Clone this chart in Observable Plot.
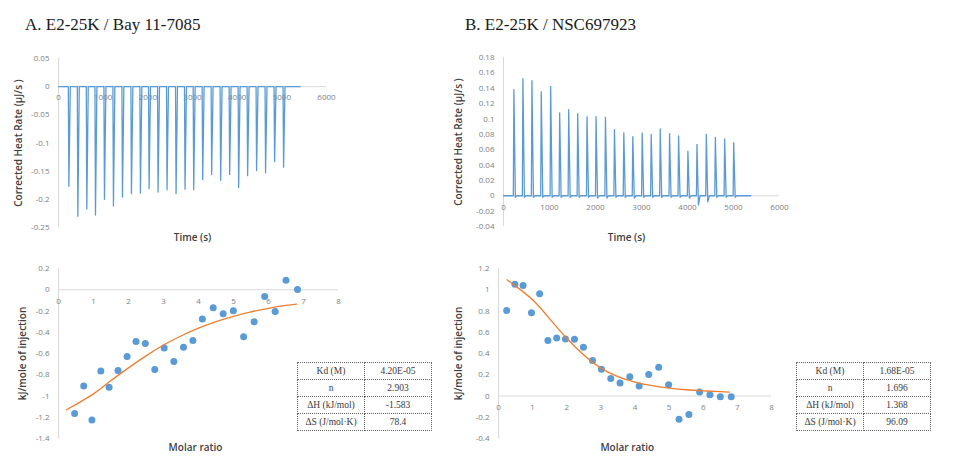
<!DOCTYPE html>
<html><head><meta charset="utf-8">
<script src="https://cdn.jsdelivr.net/npm/d3@7"></script>
<script src="https://cdn.jsdelivr.net/npm/@observablehq/plot@0.6"></script>
<style>
body{margin:0;background:#fff;}
#root{position:relative;width:966px;height:473px;overflow:hidden;background:#fff;}
.panel{position:absolute;}
.title{position:absolute;font-family:"Liberation Serif",serif;font-size:17px;color:#1a1a1a;white-space:nowrap;line-height:17px;}
table.params{position:absolute;border-collapse:collapse;font-family:"Liberation Serif",serif;font-size:9.5px;color:#3a3a3a;border:1px dotted #222;}
table.params td{border:1px dotted #666;width:66px;height:16px;text-align:center;padding:0;line-height:16px;}
</style></head><body><div id="root"></div>
<script>
// ---------- Panel titles ----------
const titleA = "A. E2-25K / Bay 11-7085";
const titleB = "B. E2-25K / NSC697923";

// ---------- Raw thermograms (injection time s, peak heat rate µJ/s) ----------
const injTimeA = [224,425,626,820,1021,1222,1424,1625,1826,2020,2221,2422,2624,2825,3019,3220,3421,3622,3824,4025,4226,4427,4628,4830,5031];
const peakA = [-0.177,-0.230,-0.217,-0.228,-0.200,-0.212,-0.196,-0.190,-0.189,-0.181,-0.187,-0.183,-0.190,-0.182,-0.183,-0.165,-0.156,-0.166,-0.156,-0.179,-0.158,-0.149,-0.153,-0.133,-0.143];
const endTimeA = 5410;

const injTimeB = [218,414,610,813,1017,1213,1409,1605,1808,2004,2208,2404,2607,2803,3007,3203,3399,3602,3798,4001,4198,4401,4597,4800,4996];
const peakB = [0.138,0.1525,0.150,0.1355,0.1425,0.108,0.112,0.107,0.103,0.103,0.102,0.086,0.082,0.077,0.082,0.080,0.087,0.081,0.078,0.058,0.067,0.080,0.076,0.074,0.069];
const undershootB = [-0.002,-0.002,-0.002,-0.002,-0.002,-0.002,-0.002,-0.002,-0.002,-0.003,-0.003,-0.002,-0.002,-0.003,-0.002,-0.002,-0.002,-0.002,-0.002,-0.003,-0.012,-0.008,-0.002,-0.002,-0.002];
const endTimeB = 5375;

// ---------- Integrated heats (molar ratio, kJ/mol of injectant) ----------
const molarA = [0.46,0.72,0.955,1.21,1.445,1.70,1.96,2.215,2.48,2.75,3.02,3.295,3.57,3.84,4.11,4.42,4.705,4.995,5.29,5.59,5.89,6.19,6.50,6.83];
const heatA = [-1.164,-0.905,-1.227,-0.765,-0.917,-0.759,-0.628,-0.487,-0.505,-0.75,-0.549,-0.676,-0.54,-0.477,-0.276,-0.17,-0.227,-0.198,-0.442,-0.302,-0.063,-0.205,0.09,0.003];
const fitAx = [0.23,1,1.5,2,2.5,3,3.5,4,4.5,5,5.5,6,6.5,6.8];
const fitAy = [-1.13,-0.98,-0.855,-0.735,-0.622,-0.52,-0.435,-0.362,-0.30,-0.25,-0.208,-0.175,-0.148,-0.135];

const molarB = [0.24,0.48,0.72,0.967,1.205,1.448,1.705,1.963,2.225,2.488,2.755,3.017,3.29,3.562,3.848,4.121,4.402,4.694,4.985,5.29,5.58,5.894,6.195,6.50,6.82];
const heatB = [0.805,1.051,1.04,0.783,0.962,0.522,0.546,0.537,0.533,0.458,0.334,0.252,0.165,0.123,0.182,0.095,0.203,0.271,0.106,-0.219,-0.175,0.037,0.012,-0.008,-0.006];
const fitBx = [0.25,0.5,1,1.5,2,2.5,3,3.5,4,4.5,5,5.5,6,6.5,6.77];
const fitBy = [1.094,1.035,0.905,0.726,0.543,0.385,0.262,0.182,0.131,0.097,0.075,0.059,0.049,0.041,0.037];

// ---------- Axis ticks ----------
const timeTicks = [0,1000,2000,3000,4000,5000,6000];
const yTicksTopA = [0.05,0,-0.05,-0.1,-0.15,-0.2,-0.25];
const yTicksTopB = [0.18,0.16,0.14,0.12,0.1,0.08,0.06,0.04,0.02,0,-0.02,-0.04];
const molarTicks = [0,1,2,3,4,5,6,7,8];
const yTicksBotA = [0.2,0,-0.2,-0.4,-0.6,-0.8,-1,-1.2,-1.4];
const yTicksBotB = [1.2,1,0.8,0.6,0.4,0.2,0,-0.2,-0.4];

// ---------- Fitted parameters ----------
const paramLabels = ["Kd (M)","n","ΔH (kJ/mol)","ΔS (J/mol·K)"];
const paramsA = ["4.20E-05","2.903","-1.583","78.4"];
const paramsB = ["1.68E-05","1.696","1.368","96.09"];

// ---------- Labels ----------
const labelRate = "Corrected Heat Rate (μJ/s )";
const labelTime = "Time (s)";
const labelHeat = "kJ/mole of injection";
const labelMolar = "Molar ratio";

const BLUE = "#5b9bd5", ORANGE = "#ed7d31", AXIS = "#d9d9d9", TICK = "#808080", TITLE = "#404040";
const fmt = d => String(Math.round(d * 1000) / 1000);

function traceRows(times, peaks, end, after) {
  const rows = [{t: 0, v: 0}];
  times.forEach((t, i) => {
    rows.push({t: t - 4, v: 0}, {t: t + 8, v: peaks[i]}, {t: t + 40, v: after ? after[i] : 0}, {t: t + 75, v: 0});
  });
  rows.push({t: end, v: 0});
  return rows;
}

const root = document.getElementById("root");

function addTitle(text, left, top) {
  const d = document.createElement("div");
  d.className = "title"; d.textContent = text;
  d.style.left = left + "px"; d.style.top = top + "px";
  root.appendChild(d);
}

function panel(o) {
  const p = Plot.plot({
    width: o.width, height: o.height,
    marginLeft: o.mL, marginRight: o.mR, marginTop: o.mT, marginBottom: o.mB,
    x: {domain: o.xDomain, axis: null},
    y: {domain: o.yDomain},
    style: {fontFamily: "'Open Sans', sans-serif", fontSize: "8px", color: TICK, background: "transparent", overflow: "visible"},
    marks: [
      Plot.ruleX([0], {stroke: AXIS, strokeWidth: 1}),
      Plot.ruleY([0], {stroke: AXIS, strokeWidth: 1}),
      Plot.axisY(o.yTicks, {tickSize: 0, tickPadding: 9, tickFormat: fmt, label: null, fontSize: 8}),
      Plot.text(o.xTicks, {x: d => d, y: () => 0, dy: o.tickDy, text: fmt, fontSize: 8, fill: TICK}),
      ...o.marks,
      Plot.text([o.xLabel], {frameAnchor: "bottom", textAnchor: "middle", lineAnchor: "middle", dx: o.xdx, dy: o.xdy, fontSize: 10, fontWeight: 600, fill: TITLE}),
      Plot.text([o.yLabel], {frameAnchor: "left", rotate: -90, textAnchor: "middle", lineAnchor: "middle", dx: o.ydx, dy: o.ydy || 0, fontSize: 10, fontWeight: 600, fill: TITLE})
    ]
  });
  p.classList.add("panel");
  p.style.left = o.left + "px"; p.style.top = o.top + "px";
  root.appendChild(p);
}

function addTable(vals, left, top) {
  const t = document.createElement("table");
  t.className = "params";
  t.style.left = left + "px"; t.style.top = top + "px";
  paramLabels.forEach((lab, i) => {
    const tr = document.createElement("tr");
    const a = document.createElement("td"); a.textContent = lab;
    const b = document.createElement("td"); b.textContent = vals[i];
    tr.appendChild(a); tr.appendChild(b); t.appendChild(tr);
  });
  root.appendChild(t);
}

addTitle(titleA, 25, 16);
addTitle(titleB, 465, 16);

// A top
panel({left: 0, top: 40, width: 345, height: 210, mL: 58, mR: 19, mT: 18, mB: 23,
  xDomain: [0, 6000], yDomain: [-0.25, 0.05], xTicks: timeTicks, yTicks: yTicksTopA, tickDy: 11,
  xLabel: labelTime, xdx: 0, xdy: 10.7, yLabel: labelRate, ydx: -39.7,
  marks: [Plot.line(traceRows(injTimeA, peakA, endTimeA), {x: "t", y: "v", stroke: BLUE, strokeWidth: 1.3})]});

// B top
panel({left: 440, top: 40, width: 350, height: 210, mL: 63, mR: 11, mT: 17, mB: 24,
  xDomain: [0, 6000], yDomain: [-0.04, 0.18], xTicks: timeTicks, yTicks: yTicksTopB, tickDy: 11.5,
  xLabel: labelTime, xdx: -15, xdy: 11.7, yLabel: labelRate, ydx: -45,
  marks: [Plot.line(traceRows(injTimeB, peakB, endTimeB, undershootB), {x: "t", y: "v", stroke: BLUE, strokeWidth: 1.3})]});

// A bottom
panel({left: 0, top: 255, width: 345, height: 200, mL: 58, mR: 7, mT: 13, mB: 17,
  xDomain: [0, 8], yDomain: [-1.4, 0.2], xTicks: molarTicks, yTicks: yTicksBotA, tickDy: 11.5,
  xLabel: labelMolar, xdx: -3, xdy: 9.7, yLabel: labelHeat, ydx: -35.3,
  marks: [
    Plot.dot(molarA.map((x, i) => ({x, y: heatA[i]})), {x: "x", y: "y", r: 3.5, fill: BLUE, stroke: null}),
    Plot.line(fitAx.map((x, i) => ({x, y: fitAy[i]})), {x: "x", y: "y", stroke: ORANGE, strokeWidth: 1.3, curve: "natural"})
  ]});

// B bottom
panel({left: 440, top: 255, width: 350, height: 200, mL: 58, mR: 19, mT: 13, mB: 17,
  xDomain: [0, 8], yDomain: [-0.4, 1.2], xTicks: molarTicks, yTicks: yTicksBotB, tickDy: 11,
  xLabel: labelMolar, xdx: -7.7, xdy: 9, yLabel: labelHeat, ydx: -39.3,
  marks: [
    Plot.dot(molarB.map((x, i) => ({x, y: heatB[i]})), {x: "x", y: "y", r: 3.5, fill: BLUE, stroke: null}),
    Plot.line(fitBx.map((x, i) => ({x, y: fitBy[i]})), {x: "x", y: "y", stroke: ORANGE, strokeWidth: 1.3, curve: "natural"})
  ]});

addTable(paramsA, 297, 362);
addTable(paramsB, 796, 362);
</script></body></html>
